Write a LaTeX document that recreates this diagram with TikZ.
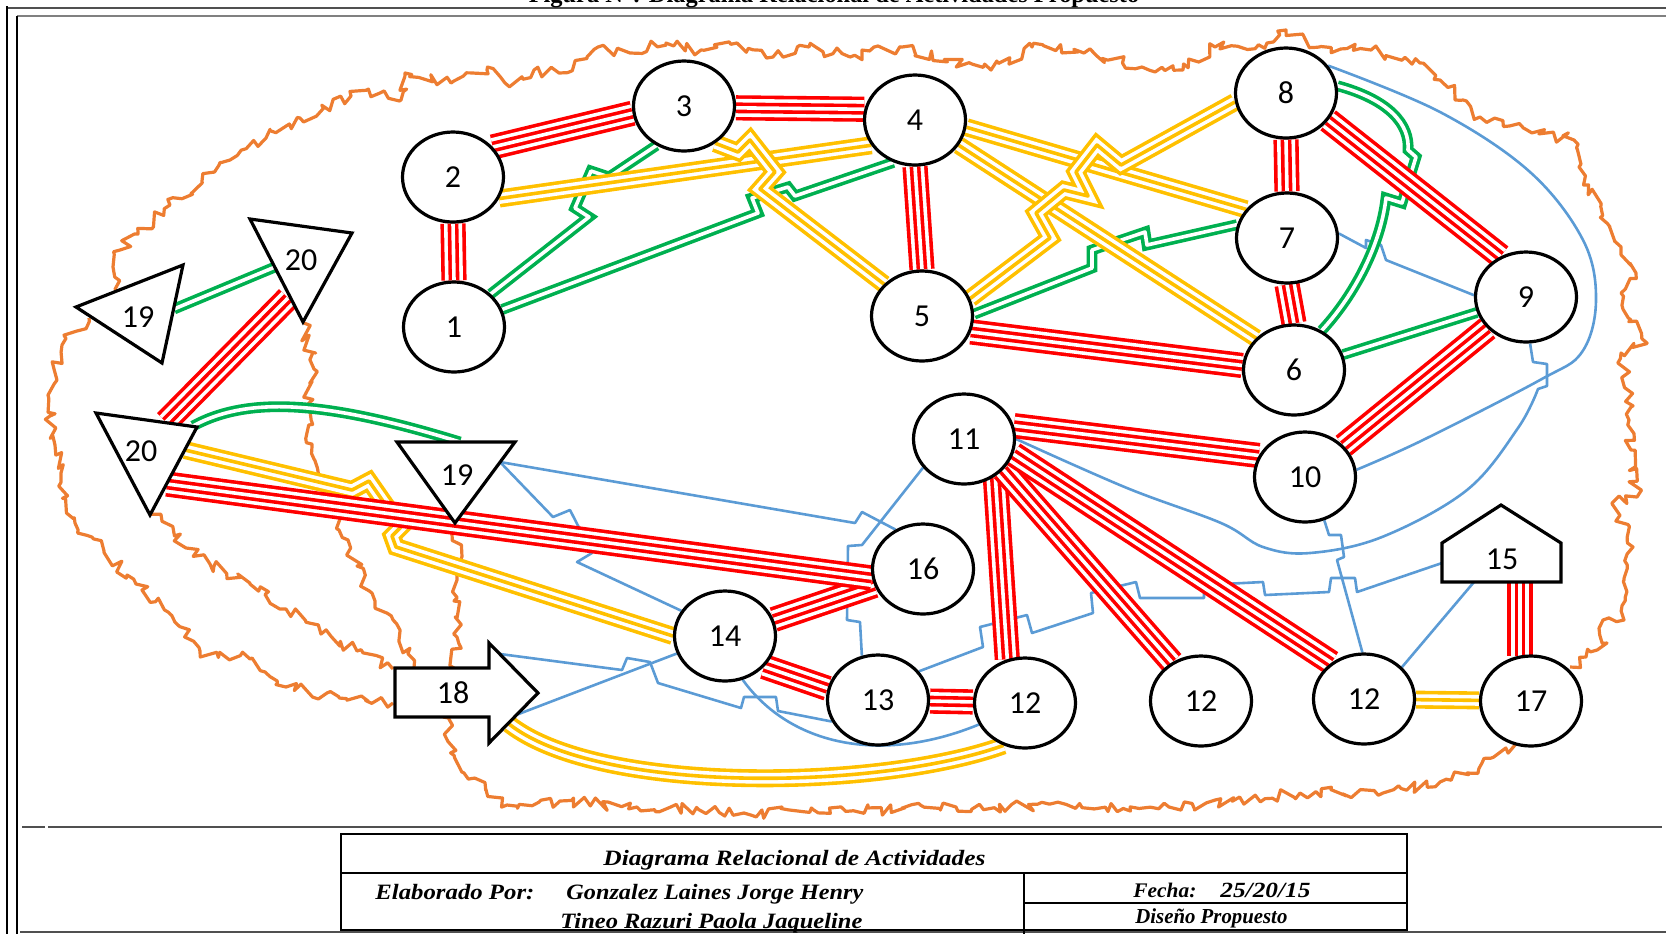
\documentclass[tikz,border=0pt]{standalone}
\usepackage{fontspec}
\usepackage{graphicx}
\usetikzlibrary{shapes.geometric,decorations.pathmorphing}
\newfontfamily\calib{Carlito}
\newfontfamily\serifb{Liberation Serif}
\newcommand{\numf}{\calib\fontsize{16}{18}\selectfont}
\newcommand{\tabfnt}{\serifb\bfseries\itshape}
\definecolor{cRed}{HTML}{FF0000}
\definecolor{cYel}{HTML}{FFC000}
\definecolor{cGrn}{HTML}{00B050}
\definecolor{cBlu}{HTML}{5B9BD5}
\definecolor{cOra}{HTML}{ED7D31}
\definecolor{cFrm}{HTML}{505050}
\pgfdeclarelayer{bg}
\pgfsetlayers{bg,main}
\begin{document}
\begin{tikzpicture}[x=0.5pt,y=-0.5pt,
  shp/.style={draw=black,line width=1.6pt,fill=white,line join=miter},
  act/.style={ellipse,draw=black,line width=1.6pt,fill=white,minimum width=50.5pt,minimum height=45pt,inner sep=0pt,font=\numf},
  lbl/.style={inner sep=0pt,font=\numf},
  relA/.style={line join=round,preaction={draw=cRed,line width=12.6pt},preaction={draw=white,line width=9pt},preaction={draw=cRed,line width=5.4pt},draw=white,line width=1.8pt},
  relE/.style={line join=round,preaction={draw=cYel,line width=9pt},preaction={draw=white,line width=5.4pt},draw=cYel,line width=1.8pt},
  relI/.style={line join=round,preaction={draw=cGrn,line width=5.4pt},draw=white,line width=1.8pt},
  relO/.style={draw=cBlu,line width=1.3pt,line join=round},
  wavy/.style={draw=cOra,line width=1.6pt,line join=round,decorate,decoration={random steps,segment length=3pt,amplitude=3pt}},
  frm/.style={draw=cFrm,line width=0.6pt},
  tabl/.style={draw=black,line width=1pt},
  ttxt/.style={anchor=base west,inner sep=0pt}]
\useasboundingbox (0,0) rectangle (1666,934);

% ---------- page frame ----------
\draw[frm] (7,8) -- (1666,8);
\draw[draw=gray,line width=1pt] (17,16) -- (1666,16);
\draw[draw=black,line width=0.6pt] (7,6) -- (7,934);
\draw[draw=black,line width=0.6pt] (17,16) -- (17,934);
\draw[frm] (22,827) -- (45,827) (48,827) -- (1662,827);
\draw[frm,line width=0.8pt] (20,932) -- (1666,932);
\node[anchor=base,inner sep=0pt] (title) at (834,2) {\serifb\bfseries\fontsize{12.2}{14}\selectfont Figura N°: Diagrama Relacional de Actividades Propuesto};

% ---------- title block ----------
\draw[tabl] (341,834) rectangle (1407,930);
\draw[tabl] (341,873) -- (1407,873);
\draw[tabl] (1024,873) -- (1024,934);
\draw[tabl] (1024,903) -- (1407,903);
\node[ttxt] (tb1) at (603,865) {\resizebox{191pt}{7.6pt}{\tabfnt Diagrama Relacional de Actividades}};
\node[ttxt] (tb2) at (375,899) {\resizebox{79.5pt}{7.6pt}{\tabfnt Elaborado Por:}};
\node[ttxt] (tb3) at (566,899) {\resizebox{148.5pt}{7.6pt}{\tabfnt Gonzalez Laines Jorge Henry}};
\node[ttxt] (tb4) at (560,928) {\resizebox{151pt}{7.6pt}{\tabfnt Tineo Razuri Paola Jaqueline}};
\node[ttxt] (tb5) at (1133,897) {\resizebox{31.5pt}{7.2pt}{\tabfnt Fecha:}};
\node[ttxt] (tb6) at (1220,897) {\resizebox{45pt}{7.2pt}{\tabfnt 25/20/15}};
\node[ttxt] (tb7) at (1135,923) {\resizebox{76pt}{7.4pt}{\tabfnt Diseño Propuesto}};

% ---------- activities ----------
\node[act] (n1) at (454,327) {1};
\node[act] (n2) at (453,177) {2};
\node[act] (n3) at (684,106) {3};
\node[act] (n4) at (915,120) {4};
\node[act] (n5) at (922,316) {5};
\node[act] (n6) at (1294,370) {6};
\node[act] (n7) at (1287,238) {7};
\node[act] (n8) at (1286,93) {8};
\node[act] (n9) at (1526,297) {9};
\node[act] (n10) at (1305,477) {10};
\node[act] (n11) at (964,439) {11};
\node[act] (n12a) at (1025,703) {12};
\node[act] (n12b) at (1201,701) {12};
\node[act] (n12c) at (1364,699) {12};
\node[act] (n13) at (878,700) {13};
\node[act] (n14) at (725,636) {14};
\node[act] (n16) at (923,569) {16};
\node[act] (n17) at (1531,701) {17};

% triangles, arrow and house
\draw[shp] (76,307) -- (183,265) -- (162,363) -- cycle;
\node[lbl] (t19a) at (138,317) {19};
\draw[shp] (250,219) -- (352,233) -- (303,322) -- cycle;
\node[lbl] (t20a) at (301,260) {20};
\draw[shp] (96,413) -- (197,427) -- (150,515) -- cycle;
\node[lbl] (t20b) at (141,451) {20};
\draw[shp] (397,442) -- (515,442) -- (455,523) -- cycle;
\node[lbl] (t19b) at (457,475) {19};
\draw[shp] (395,668) -- (489,668) -- (489,643) -- (538,693) -- (489,743) -- (489,717) -- (395,717) -- cycle;
\node[lbl] (t18) at (453,693) {18};
\draw[shp] (1442,582) -- (1442,543) -- (1501,505) -- (1561,543) -- (1561,582) -- cycle;
\node[lbl] (t15) at (1502,559) {15};

% connection points on the drawn outlines
\coordinate (p19ar) at (174,309);
\coordinate (p20al) at (275,267);
\coordinate (p20ab) at (288,298);
\coordinate (p20bt) at (166,422);
\coordinate (p20bg) at (193,426);
\coordinate (p20by) at (185,450);
\coordinate (p20br) at (167,484);
\coordinate (p19bt) at (460,442);
\coordinate (p19br) at (500,462);
\coordinate (p18t) at (500,654);
\coordinate (p18b) at (516,715);
\coordinate (p18y) at (509,724);
\coordinate (p15l) at (1442,563);
\coordinate (p15b) at (1474,582);
\coordinate (p15s) at (1520,582);
\coordinate (p17n) at (1520,656);

\begin{pgfonlayer}{bg}
% ---------- undesirable zone (wavy outline) ----------
\pgfmathsetseed{12}
\draw[wavy] (89,318) -- (62,345) -- (54,369) -- (48,395) -- (50,416) -- (55,445) -- (61,473) -- (75,523) -- (104,551) -- (136,584) -- (168,612) -- (200,651) -- (250,659) -- (286,687) -- (339,698) -- (393,703);
\draw[wavy] (152,512) -- (186,548) -- (214,566) -- (250,584) -- (286,609) -- (321,634) -- (357,651) -- (393,669);
\draw[wavy] (304,323) -- (314,369) -- (307,405) -- (314,459) -- (325,498) -- (339,530) -- (357,566) -- (375,601) -- (400,630) -- (414,668);
\draw[wavy] (455,523) -- (461,559) -- (454,601) -- (457,637) -- (454,668);
\draw[wavy] (443,717) -- (464,773) -- (507,805) -- (560,801) -- (637,807) -- (744,813) -- (956,807) -- (1169,807) -- (1300,793) -- (1383,793) -- (1440,782) -- (1467,773) -- (1515,745);
\draw[wavy] (1570,667) -- (1586,657) -- (1607,643) -- (1603,620) -- (1624,620) -- (1624,580) -- (1633,547) -- (1612,503) -- (1637,497) -- (1631,450) -- (1629,420) -- (1631,407) -- (1621,353) -- (1647,343) -- (1631,320) -- (1621,293) -- (1636,273) -- (1621,253) -- (1610,227) -- (1579,167) -- (1574,140) -- (1527,130) -- (1480,117) -- (1463,100) -- (1440,80) -- (1420,63) -- (1371,50) -- (1319,47) -- (1286,30) -- (1267,43) -- (1215,47) -- (1183,70) -- (1142,67) -- (1084,53) -- (1032,47) -- (991,70) -- (902,47) -- (850,57) -- (809,47) -- (773,57) -- (737,43) -- (701,50) -- (666,43) -- (630,53) -- (598,47) -- (587,57) -- (559,73) -- (534,70) -- (505,83) -- (487,70) -- (451,83) -- (405,73) -- (401,100) -- (380,93) -- (351,96) -- (300,118) -- (266,138) -- (230,160) -- (202,181) -- (170,205) -- (138,234) -- (120,250) -- (113,267) -- (117,291);

% ---------- O: ordinary closeness (blue) ----------
\draw[relO] plot[smooth,tension=0.6] coordinates {(n8.33) (1440,112) (1530,172) (1583,240) (1596,300) (1582,352) (1540,380) (1423,440) (n10.8)};
\draw[relO] (n9.-85) -- (1533,362) -- (1547,364) -- (1547,386) -- plot[smooth,tension=0.6] coordinates {(1538,389) (1518,428) (1467,490) (1382,537) (1310,553) (1263,547) (1221,523) (1127,488) (n11.0)};
\draw[relO] (n7.5) -- (1366,248) -- (1366,240) -- (1381,245) -- (1386,260) -- (n9.178);
\draw[relO] (p19br) -- (855,523) -- (862,512) -- (n16.125);
\draw[relO] (p19br) -- (553,517) -- (570,510) -- (592,553) -- (577,562) -- (n14.150);
\draw[relO] (n11.215) -- (862,545) -- (848,546) -- (847,620) -- (860,622) -- (n13.110);
\draw[relO] (p18t) -- (622,670) -- (627,658) -- (650,662) -- (658,683) -- (741,708) -- (744,697) -- (776,697) -- (778,711) -- (n13.205);
\draw[relO] (p18b) -- (n14.200);
\draw[relO] (n14.-68) .. controls (790,745) and (880,765) .. (n12a.205);
\draw[relO] (n13.35) -- (983,647) -- (980,627) -- (1027,615) -- (1032,633) -- (1093,613) -- (1091,593) -- (1136,582) -- (1140,598) -- (1204,598) -- (1204,585) -- (1263,582) -- (1265,595) -- (1329,592) -- (1331,578) -- (1355,578) -- (1357,592) -- (p15l);
\draw[relO] (n10.-66) -- (1329,535) -- (1341,535) -- (1344,557) -- (1337,560) -- (n12c.92);
\draw[relO] (n12c.40) -- (p15b);

% ---------- I: important (green) ----------
\draw[relI] (n1.42) -- (589,217) -- (575,208) -- (591,171) -- (609,177) -- (n3.235);
\draw[relI] (n1.20) -- (758,213) -- (752,198) -- (788,187) -- (795,196) -- (n4.243);
\draw[relI] (p19ar) -- (p20al);
\draw[relI] (p20bg) .. controls (250,395) and (330,402) .. (p19bt);
\draw[relI] (n5.2) -- (1092,268) -- (1092,250) -- (1145,232) -- (1147,245) -- (n7.165);
\draw[relI] (n8.8) .. controls (1390,100) and (1410,125) .. (1408,150) -- (1416,157) -- (1402,203) -- (1386,198) .. controls (1380,250) and (1350,300) .. (n6.55);
\draw[relI] (n6) -- (n9);

% ---------- E: especially important (yellow) ----------
\draw[relE] (n2.-25) -- (n4.210);
\draw[relE] (n3.-50) -- (738,152) -- (750,140) -- (775,172) -- (760,189) -- (n5.140);
\draw[relE] (n4.-8) -- (n7.145);
\draw[relE] (n4.-30) -- (n6.140);
\draw[relE] (n8.190) -- (1121,165) -- (1097,145) -- (1076,172) -- (1088,196) -- (1064,190) -- (1036,213) -- (1050,238) -- (n5.20);
\draw[relE] (p20by) -- (352,490) -- (369,481) -- (401,527) -- (392,536) -- (396,547) -- (n14.180);
\draw[relE] (p18y) .. controls (600,795) and (880,790) .. (n12a.243);
\draw[relE] (n12c) -- (n17);

% ---------- A: absolutely necessary (red) ----------
\draw[relA] (n2.south) -- (n1.north);
\draw[relA] (n2.37) -- (n3.188);
\draw[relA] (n3.-2) -- (n4.168);
\draw[relA] (n4.south) -- (n5.north);
\draw[relA] (n8.south) -- (n7.north);
\draw[relA] (n7.south) -- (n6.north);
\draw[relA] (n8.-33) -- (n9.122);
\draw[relA] (n5.-18) -- (n6.175);
\draw[relA] (n9) -- (n10);
\draw[relA] (n11.15) -- (n10.155);
\draw[relA] (n11.-50) -- (n12a.112);
\draw[relA] (n11.-38) -- (n12b.127);
\draw[relA] (n11.-17) -- (n12c.132);
\draw[relA] (n14) -- (n16);
\draw[relA] (n14.-38) -- (n13.167);
\draw[relA] (n13) -- (n12a);
\draw[relA] (p15s) -- (p17n);
\draw[relA] (p20ab) -- (p20bt);
\draw[relA] (p20br) -- (n16.190);
\end{pgfonlayer}
\end{tikzpicture}
\end{document}
